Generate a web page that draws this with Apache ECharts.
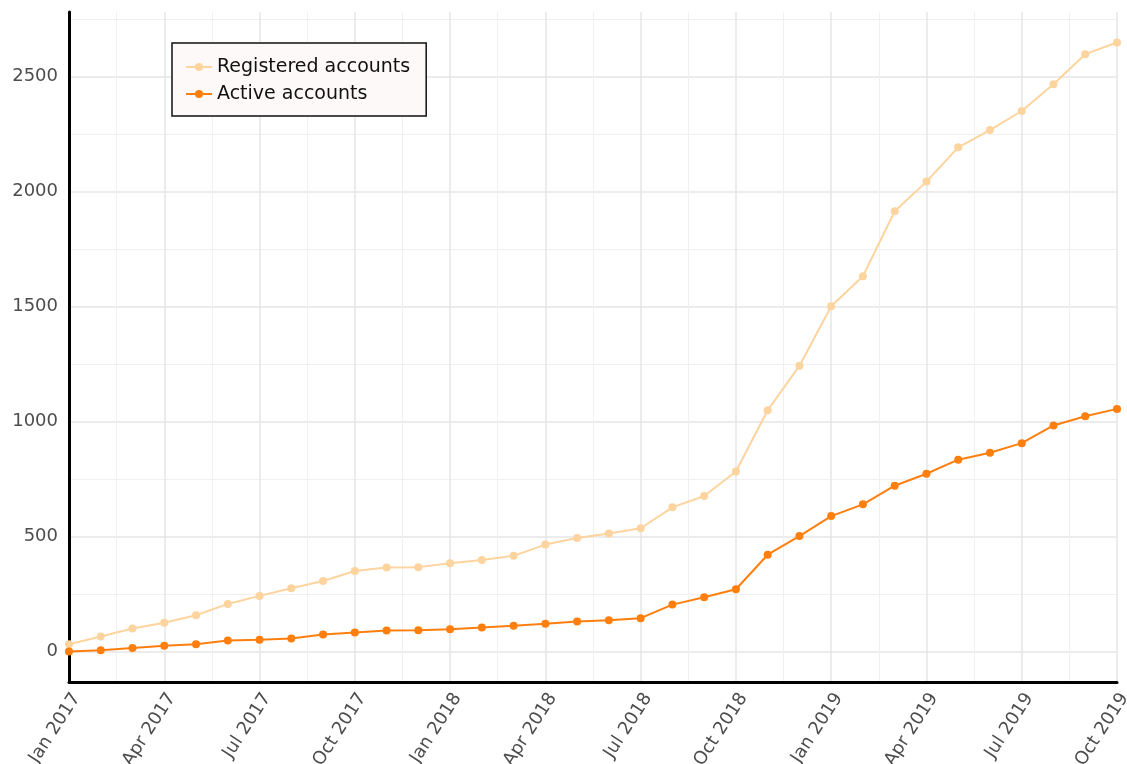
<!DOCTYPE html>
<html>
<head>
<meta charset="utf-8">
<script src="https://cdn.jsdelivr.net/npm/echarts@6/dist/echarts.min.js"></script>
<style>
html,body{margin:0;padding:0;background:#fff;}
#chart{width:1127px;height:764px;}
</style>
</head>
<body>
<div id="chart"></div>
<script>
const months = [
  'Jan 2017','Feb 2017','Mar 2017','Apr 2017','May 2017','Jun 2017','Jul 2017','Aug 2017','Sep 2017','Oct 2017','Nov 2017','Dec 2017',
  'Jan 2018','Feb 2018','Mar 2018','Apr 2018','May 2018','Jun 2018','Jul 2018','Aug 2018','Sep 2018','Oct 2018','Nov 2018','Dec 2018',
  'Jan 2019','Feb 2019','Mar 2019','Apr 2019','May 2019','Jun 2019','Jul 2019','Aug 2019','Sep 2019','Oct 2019'
];
const registered = [
  33, 66, 101, 126, 159, 208, 243, 276, 308, 351, 366, 368,
  385, 399, 417, 466, 495, 514, 537, 628, 677, 784, 1050, 1243,
  1502, 1633, 1915, 2044, 2193, 2268, 2351, 2467, 2598, 2649
];
const active = [
  1, 7, 16, 26, 33, 49, 52, 58, 75, 84, 93, 94,
  98, 106, 113, 122, 132, 137, 146, 205, 237, 272, 422, 503,
  590, 641, 722, 774, 835, 865, 907, 984, 1024, 1056
];
const seriesNames = ['Registered accounts', 'Active accounts'];

const chart = echarts.init(document.getElementById('chart'), null, {renderer: 'canvas'});
const labelColor = '#4d4d4d';
const font = 'DejaVu Sans, sans-serif';
chart.setOption({
  animation: false,
  backgroundColor: '#ffffff',
  grid: {left: 69, right: 10, top: 12, bottom: 82, containLabel: false, outerBoundsMode: 'none'},
  legend: {
    data: seriesNames,
    orient: 'vertical',
    left: 172,
    top: 43,
    padding: [14, 16, 12, 13],
    itemGap: 7,
    itemWidth: 26,
    itemHeight: 10,
    backgroundColor: '#fdf9f8',
    borderColor: '#111',
    borderWidth: 1.5,
    textStyle: {fontSize: 19, color: '#111', fontFamily: font, lineHeight: 20}
  },
  xAxis: {
    type: 'value',
    min: 0,
    max: months.length - 1,
    interval: 3,
    axisLine: {show: true, onZero: false, lineStyle: {color: '#000', width: 3}},
    axisTick: {show: false},
    axisLabel: {
      rotate: 57,
      margin: 8,
      align: 'right',
      verticalAlign: 'top',
      fontSize: 18,
      color: labelColor,
      fontFamily: font,
      formatter: v => months[v]
    },
    splitLine: {show: true, lineStyle: {color: '#e6e6e6', width: 1.5}},
    minorTick: {show: false, splitNumber: 2},
    minorSplitLine: {show: true, lineStyle: {color: '#f0f0f0', width: 1}}
  },
  yAxis: {
    type: 'value',
    min: v => v.min - 0.05 * (v.max - v.min),
    max: v => v.max + 0.05 * (v.max - v.min),
    splitNumber: 5,
    axisLine: {show: true, onZero: false, lineStyle: {color: '#000', width: 3}},
    axisTick: {show: false},
    axisLabel: {
      showMinLabel: false,
      showMaxLabel: false,
      margin: 11,
      fontSize: 18,
      color: labelColor,
      fontFamily: font,
      formatter: v => String(v)
    },
    splitLine: {show: true, showMinLine: false, showMaxLine: false, lineStyle: {color: '#e6e6e6', width: 1.5}},
    minorTick: {show: false, splitNumber: 2},
    minorSplitLine: {show: true, lineStyle: {color: '#f0f0f0', width: 1}}
  },
  series: [
    {
      name: seriesNames[0],
      type: 'line',
      data: registered.map((v, i) => [i, v]),
      symbol: 'circle',
      symbolSize: 8,
      showSymbol: true,
      itemStyle: {color: '#fdd49e'},
      lineStyle: {color: '#fdd49e', width: 2}
    },
    {
      name: seriesNames[1],
      type: 'line',
      data: active.map((v, i) => [i, v]),
      symbol: 'circle',
      symbolSize: 8,
      showSymbol: true,
      itemStyle: {color: '#ff7f0e'},
      lineStyle: {color: '#ff7f0e', width: 2}
    }
  ]
});
</script>
</body>
</html>
